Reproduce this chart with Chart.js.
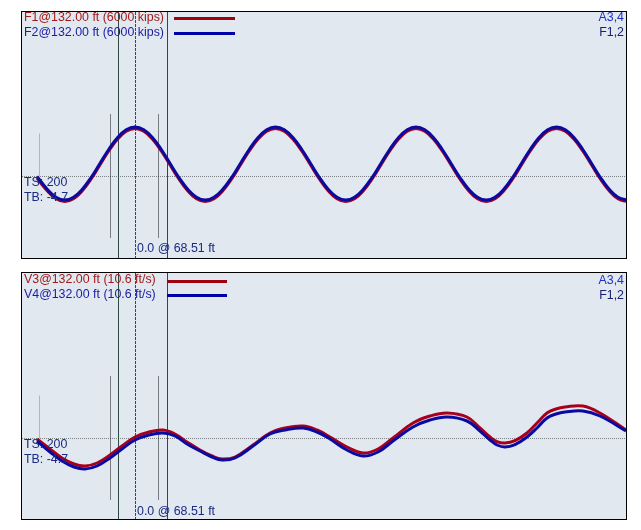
<!DOCTYPE html>
<html lang="en">
  <head>
    <meta charset="UTF-8" />
    <title>F / V traces</title>
    <script src="https://cdn.jsdelivr.net/npm/chart.js@4"></script>
    <style>
      body { margin: 0; background: #fff; font-family: "Liberation Sans", Arial, sans-serif; font-size: 12.4px; }
      .panel { position: absolute; left: 21px; width: 606px; height: 248px; box-sizing: border-box; border: 1px solid #000; background: #e1e8f0; }
      .panel canvas { position: absolute; left: 0; top: 0; }
      .txt { position: absolute; line-height: 15px; white-space: nowrap; }
      .swatch { position: absolute; height: 3px; }
    </style>
  </head>
  <body>
    <div class="panel" style="top: 11px"><canvas id="force" width="604" height="246"></canvas></div>
    <div class="panel" style="top: 272px"><canvas id="velo" width="604" height="246"></canvas></div>

    <!-- legends / labels -->
    <div class="txt" style="left:24px;top:10px;color:#a01c1c">F1@132.00 ft (6000 kips)</div>
    <div class="txt" style="left:24px;top:25px;color:#1c1ca0">F2@132.00 ft (6000 kips)</div>
    <div class="swatch" style="left:174px;top:17px;width:61px;background:#a00010"></div>
    <div class="swatch" style="left:174px;top:32px;width:61px;background:#0000a8"></div>
    <div class="txt" style="right:17px;top:10px;color:#2030c0">A3,4</div>
    <div class="txt" style="right:17px;top:25px;color:#1a2070">F1,2</div>
    <div class="txt" style="left:24px;top:175px;color:#1a2a80">TS: 200</div>
    <div class="txt" style="left:24px;top:190px;color:#1a2a80">TB: -4.7</div>
    <div class="txt" style="left:137px;top:241px;color:#1a2a80">0.0 @ 68.51 ft</div>

    <div class="txt" style="left:24px;top:272px;color:#a01c1c">V3@132.00 ft (10.6 ft/s)</div>
    <div class="txt" style="left:24px;top:287px;color:#1c1ca0">V4@132.00 ft (10.6 ft/s)</div>
    <div class="swatch" style="left:167px;top:280px;width:60px;background:#a00010"></div>
    <div class="swatch" style="left:167px;top:294px;width:60px;background:#0000a8"></div>
    <div class="txt" style="right:17px;top:273px;color:#2030c0">A3,4</div>
    <div class="txt" style="right:17px;top:288px;color:#1a2070">F1,2</div>
    <div class="txt" style="left:24px;top:437px;color:#1a2a80">TS: 200</div>
    <div class="txt" style="left:24px;top:452px;color:#1a2a80">TB: -4.7</div>
    <div class="txt" style="left:137px;top:504px;color:#1a2a80">0.0 @ 68.51 ft</div>

    <script>
      // force traces (time in ms, force in kips)
      const forceTime = [1.5, 2.52, 3.4,
        4.28, 5.15, 6.03, 6.91, 7.79, 8.67, 9.54, 10.42, 11.3, 12.18, 13.06, 13.93, 14.81, 15.69, 16.57, 17.45,
        18.33, 19.2, 20.08, 20.96, 21.84, 22.72, 23.59, 24.47, 25.35, 26.23, 27.11, 27.98, 28.86, 29.74, 30.62, 31.5,
        32.38, 33.25, 34.13, 35.01, 35.89, 36.77, 37.64, 38.52, 39.4, 40.28, 41.16, 42.03, 42.91, 43.79, 44.67, 45.55,
        46.43, 47.3, 48.18, 49.06, 49.94, 50.82, 51.69, 52.57, 53.45, 54.33, 55.21, 56.08, 56.96, 57.84, 58.72, 59.6,
        60.48];
      const forceF2 = [-20, -530, -850,
        -960, -850, -530, -60, 500, 1060, 1530, 1850, 1960, 1850, 1530, 1060, 500, -60, -530, -850,
        -960, -850, -530, -60, 500, 1060, 1530, 1850, 1960, 1850, 1530, 1060, 500, -60, -530, -850,
        -960, -850, -530, -60, 500, 1060, 1530, 1850, 1960, 1850, 1530, 1060, 500, -60, -530, -850,
        -960, -850, -530, -60, 500, 1060, 1530, 1850, 1960, 1850, 1530, 1060, 500, -60, -530, -850,
        -960];
      const forceF1 = [-80, -590, -910,
        -1020, -910, -590, -120, 440, 1000, 1470, 1790, 1900, 1790, 1470, 1000, 440, -120, -590, -910,
        -1020, -910, -590, -120, 440, 1000, 1470, 1790, 1900, 1790, 1470, 1000, 440, -120, -590, -910,
        -1020, -910, -590, -120, 440, 1000, 1470, 1790, 1900, 1790, 1470, 1000, 440, -120, -590, -910,
        -1020, -910, -590, -120, 440, 1000, 1470, 1790, 1900, 1790, 1470, 1000, 440, -120, -590, -910,
        -1020];

      // velocity traces (time in ms, ft/s)
      const veloTime = [1.5, 2.8, 4.0, 5.2, 6.3, 7.5, 8.8, 10.0, 11.3, 12.7, 14.1, 15.3, 16.5, 17.8, 19.0, 20.0, 21.3, 23.1, 24.8, 26.3, 28.1, 29.5, 30.8, 32.5, 34.1, 35.6, 37.1, 39.1, 40.8, 42.5, 44.5, 45.8, 46.8, 47.5, 48.3, 49.3, 50.5, 51.5, 52.5, 53.4, 54.3, 56.1, 57.8, 60.4];
      const veloV3 = [-0.05, -0.55, -1.0, -1.3, -1.4, -1.25, -0.85, -0.4, 0.05, 0.3, 0.4, 0.2, -0.2, -0.6, -0.9, -1.05, -0.95, -0.35, 0.25, 0.5, 0.6, 0.4, 0.05, -0.45, -0.75, -0.55, 0.0, 0.75, 1.1, 1.25, 1.05, 0.5, 0.05, -0.18, -0.25, -0.13, 0.25, 0.75, 1.25, 1.45, 1.55, 1.6, 1.25, 0.4];
      const veloV4 = [-0.15, -0.7, -1.15, -1.45, -1.55, -1.4, -1.0, -0.55, -0.1, 0.15, 0.25, 0.1, -0.3, -0.65, -0.95, -1.1, -1.0, -0.4, 0.2, 0.4, 0.5, 0.3, -0.05, -0.6, -0.9, -0.7, -0.15, 0.55, 0.9, 1.05, 0.85, 0.35, -0.1, -0.35, -0.45, -0.33, 0.05, 0.5, 1.0, 1.2, 1.3, 1.35, 1.1, 0.35];

      // marker times (ms)
      const cursorSolid = [9.6, 14.45];
      const cursorDot = 11.3;
      const cursorShort = [8.8, 13.6];
      const cursorPink = 1.7;

      const RED = "#a8001c";
      const BLUE = "#0a0aa0";

      function pairs(xs, ys) {
        return xs.map((x, i) => ({ x: x, y: ys[i] }));
      }

      const markers = {
        id: "markers",
        beforeDatasetsDraw(chart) {
          const ctx = chart.ctx;
          const xs = chart.scales.x;
          const ys = chart.scales.y;
          const a = chart.chartArea;
          const y0 = Math.round(ys.getPixelForValue(0)) + 0.5;
          ctx.save();
          ctx.lineWidth = 1;
          // baseline
          ctx.strokeStyle = "#7d8286";
          ctx.setLineDash([1, 1]);
          ctx.beginPath();
          ctx.moveTo(a.left, y0);
          ctx.lineTo(a.right, y0);
          ctx.stroke();
          // short dotted cursors
          ctx.strokeStyle = "#111";
          ctx.setLineDash([1, 1]);
          cursorShort.forEach((t) => {
            const x = Math.round(xs.getPixelForValue(t)) + 0.5;
            ctx.beginPath();
            ctx.moveTo(x, y0 - 62);
            ctx.lineTo(x, y0 + 61);
            ctx.stroke();
          });
          // long dotted cursor
          ctx.strokeStyle = "#444";
          ctx.setLineDash([3, 1]);
          let x = Math.round(xs.getPixelForValue(cursorDot)) + 0.5;
          ctx.beginPath();
          ctx.moveTo(x, a.top);
          ctx.lineTo(x, a.bottom);
          ctx.stroke();
          // solid cursors
          ctx.setLineDash([]);
          ctx.strokeStyle = "#2f4a44";
          cursorSolid.forEach((t) => {
            const x = Math.round(xs.getPixelForValue(t)) + 0.5;
            ctx.beginPath();
            ctx.moveTo(x, a.top);
            ctx.lineTo(x, a.bottom);
            ctx.stroke();
          });
          // pink tick at start
          ctx.strokeStyle = "#d8a0cc";
          x = Math.round(xs.getPixelForValue(cursorPink)) + 0.5;
          ctx.beginPath();
          ctx.moveTo(x, y0 - 43);
          ctx.lineTo(x, y0);
          ctx.stroke();
          ctx.restore();
        },
      };

      function makeChart(id, time, redVals, blueVals, yMin, yMax) {
        return new Chart(document.getElementById(id), {
          type: "line",
          data: {
            datasets: [
              { data: pairs(time, redVals), borderColor: RED, borderWidth: 3, pointRadius: 0, tension: 0.4, order: 2 },
              { data: pairs(time, blueVals), borderColor: BLUE, borderWidth: 3, pointRadius: 0, tension: 0.4, order: 1 },
            ],
          },
          options: {
            responsive: false,
            animation: false,
            layout: { padding: 0 },
            plugins: { legend: { display: false }, tooltip: { enabled: false } },
            scales: {
              x: { type: "linear", min: 0, max: 60.4, display: false },
              y: { min: yMin, max: yMax, display: false },
            },
          },
          plugins: [markers],
        });
      }

      makeChart("force", forceTime, forceF1, forceF2, -3280, 6560);
      makeChart("velo", veloTime, veloV3, veloV4, -4.05, 8.25);
    </script>
  </body>
</html>
